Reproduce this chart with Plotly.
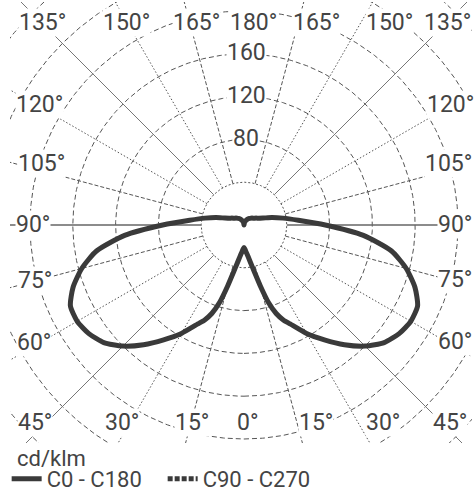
import numpy as np
import plotly.graph_objects as go

# ---------------- data ----------------
gamma_deg = [0, 2.5, 5, 7.5, 10, 12.5, 15, 17.5, 20, 22.5, 25, 30, 35, 40, 45, 50, 55,
             60, 65, 70, 75, 80, 85, 90, 95, 100, 105, 110, 115, 120, 125, 130,
             135, 140, 150, 160, 170, 180]
c0_cdklm = [21, 23, 26, 30, 36, 45, 59, 76, 88, 96, 102, 117, 131, 146, 160, 171, 177,
            180, 179, 170, 157, 140, 112, 76, 51, 37, 27, 19, 15, 13, 11, 10,
            9, 8, 6, 4, 2, 0]
c180_cdklm = [21, 23, 26, 30, 36, 45, 59, 76, 88, 96, 102, 117, 131, 146, 160, 171, 177,
              180, 179, 170, 157, 140, 112, 76, 51, 37, 27, 19, 15, 13, 11, 10,
              9, 8, 6, 4, 2, 0]
c90_c270_cdklm = []          # no visible curve in the reference

ring_values = [40, 80, 120, 160, 200, 240, 280, 320]
ring_label_values = [160, 120, 80]
angle_grid = [15, 30, 45, 60, 75, 90, 105, 120, 135, 150, 165]
unit_label = "cd/klm"
series_names = ["C0 - C180", "C90 - C270"]

# ---------------- geometry / style ----------------
PX = 1.07                       # pixels per cd/klm
CX, CY = 244, 225               # pole position in pixels
ML, MR, MT, MB = 10, 4, 2, 50
W, H = 476, 493
xr = [(ML - CX) / PX, (W - MR - CX) / PX]
yr = [(CY - (H - MB)) / PX, (CY - MT) / PX]
RMAX = 420
GRID = "#555555"
TXT = "#444444"
FONT = "Roboto"
FS = 23


def to_xy(r, deg, side):
    t = np.radians(np.asarray(deg, dtype=float))
    r = np.asarray(r, dtype=float)
    return side * r * np.sin(t), -r * np.cos(t)


fig = go.Figure()

# rings
for rv in ring_values:
    tt = np.linspace(0, 360, 721)
    x, y = to_xy(np.full_like(tt, rv), tt, 1)
    fig.add_trace(go.Scatter(x=x, y=y, mode="lines", hoverinfo="skip", showlegend=False,
                             line=dict(color=GRID, width=1,
                                       dash="2px,2px" if rv == ring_values[0] else "5px,3px")))

# radial lines
styles = {}
for a in angle_grid:
    if a == 90:
        st = ("solid", "#666666", 1.3)
    elif a in (45, 135):
        st = ("solid", "#777777", 1)
    elif a in (15, 75, 105, 165):
        st = ("4px,2px", GRID, 1)
    else:
        st = ("1.5px,2px", GRID, 1)
    styles.setdefault(st, []).append(a)
for (dash, col, wd), angs in styles.items():
    xs, ys = [], []
    for a in angs:
        for side in (1, -1):
            x, y = to_xy([ring_values[0], RMAX], [a, a], side)
            xs += list(x) + [None]
            ys += list(y) + [None]
    fig.add_trace(go.Scatter(x=xs, y=ys, mode="lines", hoverinfo="skip", showlegend=False,
                             line=dict(color=col, width=wd, dash=dash)))

# C90 - C270 (legend only, no visible curve)
fig.add_trace(go.Scatter(x=c90_c270_cdklm or [None], y=c90_c270_cdklm or [None],
                         mode="lines", name=series_names[1],
                         line=dict(color="#3a3a3a", width=5, dash="5px,2px")))

# C0 - C180 curve
xl, yl = to_xy(c180_cdklm, gamma_deg, -1)
xrt, yrt = to_xy(c0_cdklm, gamma_deg, 1)
xc = np.concatenate([xl[::-1], xrt[1:]])
yc = np.concatenate([yl[::-1], yrt[1:]])
fig.add_trace(go.Scatter(x=xc, y=yc, mode="lines", name=series_names[0],
                         line=dict(color="#3a3a3a", width=5, shape="spline", smoothing=0.6)))

# ---------------- labels ----------------
def pxd(px, py):
    return (px - CX) / PX, (CY - py) / PX

angle_label_pos = [
    ("135°", 42, 22), ("150°", 126, 22), ("165°", 196, 22), ("180°", 253, 22),
    ("165°", 316, 22), ("150°", 389, 22), ("135°", 447, 22),
    ("120°", 39, 104), ("105°", 41, 163), ("90°", 33, 224), ("75°", 35, 280),
    ("60°", 34, 342), ("45°", 35, 422),
    ("120°", 450, 104), ("105°", 448, 163), ("90°", 455, 224), ("75°", 455, 279),
    ("60°", 455, 341), ("45°", 450, 422),
    ("30°", 122, 422), ("15°", 192, 422), ("0°", 248, 422), ("15°", 316, 422),
    ("30°", 383, 422),
]
annotations = []
for txt, px, py in angle_label_pos:
    x, y = pxd(px, py)
    annotations.append(dict(x=x, y=y, xref="x", yref="y", text=txt, showarrow=False,
                            xanchor="center", yanchor="middle", bgcolor="white",
                            borderpad=0, font=dict(family=FONT, size=FS, color=TXT)))
for rv in ring_label_values:
    x, y = 2 / PX, rv + 1
    annotations.append(dict(x=x, y=y, xref="x", yref="y", text=str(rv), showarrow=False,
                            xanchor="center", yanchor="middle", bgcolor="white",
                            borderpad=0, font=dict(family=FONT, size=FS, color=TXT)))
annotations.append(dict(x=(15 - ML) / (W - ML - MR), y=(H - MB - 458) / (H - MT - MB),
                        xref="paper", yref="paper", text=unit_label, showarrow=False,
                        xanchor="left", yanchor="middle",
                        font=dict(family=FONT, size=22, color=TXT)))

fig.update_layout(
    width=W, height=H,
    margin=dict(l=ML, r=MR, t=MT, b=MB),
    paper_bgcolor="white", plot_bgcolor="white",
    xaxis=dict(range=xr, visible=False, fixedrange=True),
    yaxis=dict(range=yr, visible=False, fixedrange=True),
    showlegend=True,
    legend=dict(orientation="h", xref="container", yref="container",
                x=0.014, y=1 - 479 / H, xanchor="left", yanchor="middle",
                font=dict(family=FONT, size=22, color=TXT),
                traceorder="reversed", bgcolor="rgba(0,0,0,0)",
                itemwidth=30, tracegroupgap=0,
                entrywidth=111, entrywidthmode="pixels"),
    annotations=annotations,
)

fig.write_html("out.html", config={"displayModeBar": False},
               post_script="document.body.style.margin='0';document.body.style.overflow='hidden';")
